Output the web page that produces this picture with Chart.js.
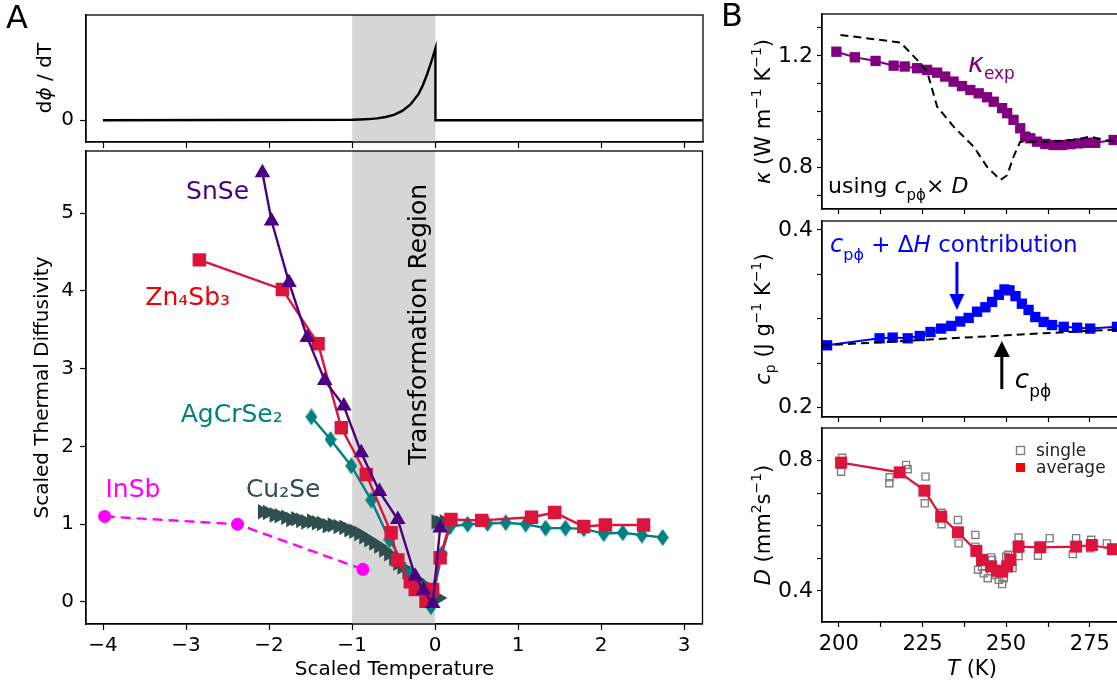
<!DOCTYPE html>
<html>
<head>
<meta charset="utf-8">
<script src="https://cdn.jsdelivr.net/npm/chart.js@4.4.0/dist/chart.umd.min.js"></script>
<style>
html, body { margin: 0; padding: 0; background: #fff; overflow: hidden; width: 1117px; height: 688px; }
canvas { position: absolute; }
</style>
</head>
<body>
<canvas id="phiChart" style="left:0;top:-10px" width="712" height="180"></canvas>
<canvas id="diffChart" style="left:0;top:130px" width="712" height="558"></canvas>
<canvas id="kappaChart" style="left:712px;top:-10px" width="420" height="244"></canvas>
<canvas id="cpChart" style="left:712px;top:190px" width="420" height="252"></canvas>
<canvas id="dChart" style="left:712px;top:400px" width="420" height="288"></canvas>
<script>
// ---- Panel A: dphi/dT ----
const phiT    = [-4.0, -1.0, -0.9, -0.8, -0.7, -0.6, -0.5, -0.4, -0.3, -0.2, -0.15, -0.1, -0.05, 0.0, 0.0, 3.22];
const phiRate = [0, 0.006, 0.01, 0.016, 0.026, 0.045, 0.075, 0.13, 0.22, 0.37, 0.49, 0.64, 0.81, 1.0, 0, 0];

// ---- Panel A: scaled diffusivity ----
const snseT = [-2.08, -1.97, -1.76, -1.54, -1.33, -1.10, -0.89, -0.67, -0.45, -0.24, -0.14, -0.03, 0.06];
const snseD = [5.52, 4.90, 4.11, 3.40, 2.85, 2.52, 1.92, 1.42, 1.06, 0.33, 0.15, -0.02, 0.95];

const znsbT = [-2.84, -1.84, -1.41, -1.13, -0.83, -0.53, -0.45, -0.30, -0.24, -0.11, -0.03, 0.06, 0.19, 0.56, 1.16, 1.44, 1.79, 2.05, 2.51];
const znsbD = [4.40, 4.02, 3.32, 2.24, 1.64, 0.89, 0.54, 0.26, 0.16, 0.01, 0.16, 0.57, 1.06, 1.05, 1.09, 1.15, 0.97, 0.99, 0.99];

const agcrT = [-1.49, -1.26, -1.01, -0.77, -0.55, -0.30, -0.05, 0.08, 0.18, 0.39, 0.63, 0.85, 1.09, 1.33, 1.57, 1.79, 2.03, 2.26, 2.49, 2.74];
const agcrD = [2.38, 2.09, 1.75, 1.31, 0.80, 0.35, -0.06, 0.62, 0.97, 1.00, 1.01, 1.02, 1.00, 0.95, 0.95, 0.94, 0.88, 0.89, 0.86, 0.83];

const cuseT = [-2.08, -2.02, -1.94, -1.88, -1.80, -1.74, -1.68, -1.62, -1.56, -1.49, -1.43, -1.37, -1.30, -1.24, -1.17, -1.10, -1.04, -0.98,
               -0.92, -0.86, -0.80, -0.74, -0.68, -0.62, -0.56, -0.50, -0.45, -0.40, -0.34, -0.29, -0.23, -0.17, -0.12, -0.06, -0.01, 0.04,
               0.01, 0.06, 0.11];
const cuseD = [1.16, 1.15, 1.12, 1.11, 1.09, 1.06, 1.07, 1.05, 1.03, 1.04, 1.02, 1.01, 0.98, 0.99, 0.97, 0.96, 0.93, 0.91,
               0.88, 0.84, 0.80, 0.76, 0.72, 0.67, 0.62, 0.56, 0.50, 0.45, 0.39, 0.35, 0.29, 0.24, 0.18, 0.11, 0.07, 0.05,
               1.03, 1.02, 1.03];

const insbT = [-3.98, -2.38, -0.87];
const insbD = [1.10, 1.00, 0.42];

// ---- Panel B: kappa ----
const kappaT   = [199.3, 204.8, 211.0, 216.4, 219.7, 223.4, 226.4, 229.4, 231.8, 234.3, 236.8, 239.3, 241.8, 244.3, 246.3,
                  248.8, 250.3, 252.2, 254.2, 255.7, 257.2, 259.2, 261.7, 264.2, 266.7, 269.2, 271.6, 274.1, 276.6, 282.1];
const kappaExp = [1.215, 1.195, 1.182, 1.165, 1.162, 1.156, 1.150, 1.140, 1.126, 1.108, 1.092, 1.078, 1.066, 1.052, 1.036,
                  1.013, 0.995, 0.971, 0.941, 0.911, 0.905, 0.893, 0.885, 0.881, 0.881, 0.884, 0.887, 0.889, 0.889, 0.899];
const kappaCalcT = [200.5, 218.4, 223.4, 226.4, 229.4, 234.3, 240.3, 244.3, 248.3, 250.3, 252.2, 254.2, 264.2, 270.1, 275.1, 279.1, 283.1];
const kappaCalc  = [1.275, 1.248, 1.186, 1.144, 1.018, 0.947, 0.875, 0.803, 0.756, 0.773, 0.839, 0.893, 0.893, 0.899, 0.911, 0.899, 0.893];

// ---- Panel B: heat capacity ----
const cpT     = [196.5, 212.2, 216.1, 220.6, 224.2, 227.4, 230.6, 233.6, 236.3, 238.8, 241.3, 243.8, 245.8, 247.8, 249.5,
                 251.0, 252.8, 254.7, 256.7, 258.7, 261.2, 263.7, 267.2, 271.2, 275.1, 283.1];
const cpTotal = [0.2702, 0.2781, 0.2789, 0.2781, 0.2807, 0.2852, 0.289, 0.292, 0.297, 0.301, 0.308, 0.313, 0.319, 0.327, 0.333,
                 0.332, 0.3255, 0.317, 0.310, 0.302, 0.2965, 0.293, 0.291, 0.290, 0.289, 0.291];
const cpPhiT = [195, 250, 290];
const cpPhi  = [0.270, 0.2815, 0.2895];

// ---- Panel B: diffusivity ----
const dAvgT = [200.7, 218.2, 225.6, 230.6, 235.6, 241.1, 242.8, 245.5, 247.3, 248.8, 250.3, 251.3, 253.7, 260.2, 270.9, 275.6, 281.9];
const dAvg  = [0.794, 0.764, 0.708, 0.628, 0.580, 0.523, 0.495, 0.475, 0.462, 0.459, 0.475, 0.495, 0.536, 0.534, 0.536, 0.541, 0.528];
const dSingleT = [201.0, 200.7, 215.2, 215.1, 220.1, 220.6, 225.9, 225.7, 230.7, 230.7, 235.6, 235.8, 240.8, 240.8, 241.6, 242.8, 243.3,
                  244.5, 245.5, 245.8, 246.8, 247.8, 248.8, 249.3, 250.0, 250.6, 251.9, 253.7, 253.7, 259.5, 259.7, 263.0, 269.9,
                  270.9, 275.1, 275.4, 280.1];
const dSingle  = [0.809, 0.766, 0.749, 0.731, 0.787, 0.774, 0.751, 0.669, 0.640, 0.605, 0.618, 0.546, 0.572, 0.536, 0.465, 0.475, 0.454,
                  0.439, 0.503, 0.495, 0.449, 0.434, 0.421, 0.439, 0.505, 0.511, 0.470, 0.564, 0.507, 0.508, 0.536, 0.562, 0.513,
                  0.562, 0.531, 0.557, 0.546];

// ---- ticks ----
const aTicksX = [-4, -3, -2, -1, 0, 1, 2, 3];
const aTicksY = [0, 1, 2, 3, 4, 5];
const bTicksT = [200, 212.5, 225, 237.5, 250, 262.5, 275];
const bLabelsT = [200, 225, 250, 275];
const kappaTicks = [0.7, 0.8, 0.9, 1.0, 1.1, 1.2, 1.3];
const kappaLabels = [0.8, 1.2];
const cpTicks = [0.2, 0.25, 0.3, 0.35, 0.4];
const cpLabels = [0.2, 0.4];
const dTicks = [0.4, 0.5, 0.6, 0.7, 0.8];
const dLabels = [0.4, 0.8];

const FONT = 'DejaVu Sans';
const INDIGO = '#4b0082', CRIMSON = '#dc143c', TEAL = '#008080', SLATE = '#2f4f4f', MAGENTA = '#ff00ff';

function font(size, italic) {
	return (italic ? 'italic ' : '') + size + 'px "' + FONT + '"';
}

function xy(xs, ys) {
	return xs.map((x, i) => ({ x: x, y: ys[i] }));
}

function minus(v) {
	return (v < 0 ? '\u2212' : '') + Math.abs(v);
}

// draw pieces of text one after another: [text, size, italic, dy]
function drawRuns(ctx, x, y, runs, color, align, angle) {
	ctx.save();
	ctx.translate(x, y);
	if (angle) ctx.rotate(angle);
	ctx.fillStyle = color;
	ctx.textBaseline = 'alphabetic';
	ctx.textAlign = 'left';
	let total = 0;
	runs.forEach(r => { ctx.font = font(r[1], r[2]); total += ctx.measureText(r[0]).width; });
	let cx = align === 'center' ? -total / 2 : 0;
	runs.forEach(r => {
		ctx.font = font(r[1], r[2]);
		ctx.fillText(r[0], cx, r[3] || 0);
		cx += ctx.measureText(r[0]).width;
	});
	ctx.restore();
}

// thin diamond marker like matplotlib 'd'
function thinDiamond(color, w, h) {
	let c = document.createElement('canvas');
	c.width = w; c.height = h;
	let g = c.getContext('2d');
	g.fillStyle = color;
	g.beginPath();
	g.moveTo(w / 2, 0); g.lineTo(w, h / 2); g.lineTo(w / 2, h); g.lineTo(0, h / 2);
	g.closePath(); g.fill();
	return c;
}

function axis(o) {
	return {
		type: 'linear', position: o.pos, min: o.min, max: o.max, bounds: 'data',
		afterFit: s => { if (o.pos === 'bottom') s.height = o.size; else s.width = o.size; },
		afterBuildTicks: s => { s.ticks = o.ticks.map(v => ({ value: v })); },
		ticks: {
			autoSkip: false, maxRotation: 0, minRotation: 0, color: '#000', padding: o.pad,
			font: { family: FONT, size: o.font || 20 },
			callback: v => o.labels.some(l => Math.abs(l - v) < 1e-9) ? o.fmt(v) : ''
		},
		grid: { drawOnChartArea: false, drawTicks: true, tickLength: o.tick || 6, tickColor: '#000', tickWidth: 1.2 },
		border: { display: true, color: '#000', width: 1.3 }
	};
}

function baseOptions(pad, scales) {
	return {
		responsive: false, animation: false, events: [],
		layout: { padding: pad },
		plugins: { legend: { display: false }, tooltip: { enabled: false } },
		scales: scales
	};
}

// box around the plot area
const framePlugin = {
	id: 'frame',
	afterDatasetsDraw(chart) {
		const { ctx, chartArea: a } = chart;
		ctx.save();
		ctx.strokeStyle = '#000';
		ctx.lineWidth = 1.3;
		ctx.strokeRect(a.left, a.top, a.right - a.left, a.bottom - a.top);
		ctx.restore();
	}
};

// grey transformation band between scaled T = -1 and 0
const bandPlugin = {
	id: 'band',
	beforeDatasetsDraw(chart) {
		const { ctx, chartArea: a, scales } = chart;
		let x0 = scales.x.getPixelForValue(-1), x1 = scales.x.getPixelForValue(0);
		ctx.save();
		ctx.fillStyle = '#d6d6d6';
		ctx.fillRect(x0, a.top, x1 - x0, a.bottom - a.top);
		ctx.restore();
	}
};

// draw in page coordinates
function onPage(chart, fn) {
	const ctx = chart.ctx;
	ctx.save();
	ctx.translate(-chart.canvas.offsetLeft, -chart.canvas.offsetTop);
	fn(ctx);
	ctx.restore();
}

function arrow(ctx, x, yTail, yTip, color, headW, headL) {
	let dir = yTip > yTail ? 1 : -1;
	ctx.save();
	ctx.strokeStyle = color; ctx.fillStyle = color; ctx.lineWidth = 3;
	ctx.beginPath(); ctx.moveTo(x, yTail); ctx.lineTo(x, yTip - dir * headL); ctx.stroke();
	ctx.beginPath();
	ctx.moveTo(x, yTip);
	ctx.lineTo(x - headW / 2, yTip - dir * headL);
	ctx.lineTo(x + headW / 2, yTip - dir * headL);
	ctx.closePath(); ctx.fill();
	ctx.restore();
}

const aX = { pos: 'bottom', min: -4.205, max: 3.22, ticks: aTicksX, fmt: minus };
const bX = { pos: 'bottom', min: 195, max: 284.6, ticks: bTicksT, fmt: v => String(v), tick: 5, font: 21 };
const bYLab = 21;

// ---------- Panel A top ----------
new Chart(document.getElementById('phiChart'), {
	type: 'scatter',
	data: { datasets: [{
		data: xy(phiT, phiRate), showLine: true, borderColor: '#000', borderWidth: 2.4, pointRadius: 0, tension: 0
	}] },
	options: baseOptions({ top: 25, right: 9, left: 0, bottom: 0 }, {
		x: axis(Object.assign({}, aX, { size: 28, labels: [], pad: 4 })),
		y: axis({ pos: 'left', min: -0.303, max: 1.464, ticks: [0], labels: [0], fmt: String, size: 86, pad: 6 })
	}),
	plugins: [bandPlugin, framePlugin, {
		id: 'notesTop',
		afterDraw(chart) {
			onPage(chart, ctx => {
				drawRuns(ctx, 6, 28, [['A', 32]], '#000');
				drawRuns(ctx, 51, 78, [['d', 20], ['\u03d5', 20, true], [' / dT', 20]], '#000', 'center', -Math.PI / 2);
			});
		}
	}]
});

// ---------- Panel A main ----------
new Chart(document.getElementById('diffChart'), {
	type: 'scatter',
	data: { datasets: [
		{ label: 'SnSe', data: xy(snseT, snseD), showLine: true, borderColor: INDIGO, backgroundColor: INDIGO,
		  borderWidth: 2.4, pointStyle: 'triangle', pointRadius: 9, pointBorderWidth: 0 },
		{ label: 'Zn4Sb3', data: xy(znsbT, znsbD), showLine: true, borderColor: CRIMSON, backgroundColor: CRIMSON,
		  borderWidth: 2.4, pointStyle: 'rect', pointRadius: 9.5, pointBorderWidth: 0 },
		{ label: 'AgCrSe2', data: xy(agcrT, agcrD), showLine: true, borderColor: TEAL, backgroundColor: TEAL,
		  borderWidth: 2.4, pointStyle: thinDiamond(TEAL, 12, 17), pointRadius: 7 },
		{ label: 'Cu2Se', data: xy(cuseT, cuseD), showLine: false, borderColor: SLATE, backgroundColor: SLATE,
		  pointStyle: 'triangle', pointRotation: 90, pointRadius: 9, pointBorderWidth: 0 },
		{ label: 'InSb', data: xy(insbT, insbD), showLine: true, borderColor: MAGENTA, backgroundColor: MAGENTA,
		  borderWidth: 2.4, borderDash: [10, 6], pointStyle: 'circle', pointRadius: 6.5, pointBorderWidth: 0 }
	] },
	options: baseOptions({ top: 21, right: 9, left: 0, bottom: 0 }, {
		x: axis(Object.assign({}, aX, { size: 64, labels: aTicksX, pad: 4 })),
		y: axis({ pos: 'left', min: -0.283, max: 5.8, ticks: aTicksY, labels: aTicksY, fmt: String, size: 86, pad: 6 })
	}),
	plugins: [bandPlugin, framePlugin, {
		id: 'notesMain',
		beforeDatasetsDraw(chart) {
			const { ctx, scales: { x, y } } = chart;
			drawRuns(ctx, x.getPixelForValue(-0.11), y.getPixelForValue(3.57),
				[['Transformation Region', 25]], '#000', 'center', -Math.PI / 2);
		},
		afterDraw(chart) {
			const { ctx, scales: { x, y } } = chart;
			const tags = [
				['SnSe', -2.62, 5.30, INDIGO],
				['Zn\u2084Sb\u2083', -2.98, 3.93, '#f00000'],
				['AgCrSe\u2082', -2.45, 2.43, TEAL],
				['InSb', -3.64, 1.46, MAGENTA],
				['Cu\u2082Se', -1.83, 1.46, SLATE]
			];
			tags.forEach(t => drawRuns(ctx, x.getPixelForValue(t[1]), y.getPixelForValue(t[2]) + 9, [[t[0], 25]], t[3], 'center'));
			onPage(chart, c => {
				drawRuns(c, 394.5, 675, [['Scaled Temperature', 20]], '#000', 'center');
				drawRuns(c, 48, 387.5, [['Scaled Thermal Diffusivity', 20]], '#000', 'center', -Math.PI / 2);
			});
		}
	}]
});

// ---------- Panel B: kappa ----------
new Chart(document.getElementById('kappaChart'), {
	type: 'scatter',
	data: { datasets: [
		{ data: xy(kappaCalcT, kappaCalc), showLine: true, borderColor: '#000', borderWidth: 2, borderDash: [8, 5], pointRadius: 0 },
		{ data: xy(kappaT, kappaExp), showLine: true, borderColor: '#800080', backgroundColor: '#800080', borderWidth: 2,
		  pointStyle: 'rect', pointRadius: 7.3, pointBorderWidth: 0 }
	] },
	options: baseOptions({ top: 24, right: 10, left: 0, bottom: 0 }, {
		x: axis(Object.assign({}, bX, { size: 25, labels: [], pad: 4 })),
		y: axis({ pos: 'left', min: 0.652, max: 1.35, ticks: kappaTicks, labels: kappaLabels, fmt: v => v.toFixed(1), size: 110, pad: 4, tick: 5, font: 22 })
	}),
	plugins: [framePlugin, {
		id: 'notesKappa',
		afterDraw(chart) {
			const { ctx, scales: { x, y } } = chart;
			drawRuns(ctx, x.getPixelForValue(238.6), y.getPixelForValue(1.143),
				[['\u03ba', 27, true], ['exp', 17, false, 7]], '#800080');
			drawRuns(ctx, x.getPixelForValue(196.8), y.getPixelForValue(0.709),
				[['using ', 22], ['c', 22, true], ['p\u03d5', 15, false, 7], ['\u00d7 ', 22], ['D', 22, true]], '#000');
			onPage(chart, c => {
				drawRuns(c, 721, 26, [['B', 32]], '#000');
				drawRuns(c, 770, 111.5, [['\u03ba', bYLab, true], [' (W m', bYLab], ['\u22121', 14, false, -9], [' K', bYLab], ['\u22121', 14, false, -9], [')', bYLab]],
					'#000', 'center', -Math.PI / 2);
			});
		}
	}]
});

// ---------- Panel B: heat capacity ----------
new Chart(document.getElementById('cpChart'), {
	type: 'scatter',
	data: { datasets: [
		{ data: xy(cpPhiT, cpPhi), showLine: true, borderColor: '#000', borderWidth: 2, borderDash: [8, 5], pointRadius: 0 },
		{ data: xy(cpT, cpTotal), showLine: true, borderColor: '#0000ff', backgroundColor: '#0000ff', borderWidth: 2,
		  pointStyle: 'rect', pointRadius: 7.3, pointBorderWidth: 0 }
	] },
	options: baseOptions({ top: 31, right: 10, left: 0, bottom: 0 }, {
		x: axis(Object.assign({}, bX, { size: 25, labels: [], pad: 4 })),
		y: axis({ pos: 'left', min: 0.1896, max: 0.41, ticks: cpTicks, labels: cpLabels, fmt: v => v.toFixed(1), size: 110, pad: 4, tick: 5, font: 22 })
	}),
	plugins: [framePlugin, {
		id: 'notesCp',
		afterDraw(chart) {
			const { ctx, scales: { x, y } } = chart;
			drawRuns(ctx, x.getPixelForValue(197.4), y.getPixelForValue(0.375),
				[['c', 24, true], ['p\u03d5', 16, false, 8], [' + ', 23], ['\u0394', 23], ['H', 23, true], [' contribution', 23]], '#0000ff');
			drawRuns(ctx, x.getPixelForValue(252.6), y.getPixelForValue(0.222),
				[['c', 26, true], ['p\u03d5', 17, false, 9]], '#000');
			arrow(ctx, x.getPixelForValue(235.3), y.getPixelForValue(0.364), y.getPixelForValue(0.310), '#0000ff', 15, 16);
			arrow(ctx, x.getPixelForValue(248.7), y.getPixelForValue(0.221), y.getPixelForValue(0.275), '#000', 16, 16);
			onPage(chart, c => {
				drawRuns(c, 770, 319, [['c', bYLab, true], ['p', 14, false, 5], [' (J g', bYLab], ['\u22121', 14, false, -9], [' K', bYLab], ['\u22121', 14, false, -9], [')', bYLab]],
					'#000', 'center', -Math.PI / 2);
			});
		}
	}]
});

// ---------- Panel B: diffusivity ----------
new Chart(document.getElementById('dChart'), {
	type: 'scatter',
	data: { datasets: [
		{ data: xy(dAvgT, dAvg), showLine: true, borderColor: CRIMSON, backgroundColor: CRIMSON, borderWidth: 2.2,
		  pointStyle: 'rect', pointRadius: 8.5, pointBorderWidth: 0 },
		{ data: xy(dSingleT, dSingle), showLine: false, borderColor: '#808080', backgroundColor: 'rgba(0,0,0,0)',
		  pointStyle: 'rect', pointRadius: 5, pointBorderWidth: 1.4 }
	] },
	options: baseOptions({ top: 28, right: 10, left: 0, bottom: 0 }, {
		x: axis(Object.assign({}, bX, { size: 66, labels: bLabelsT, pad: 5 })),
		y: axis({ pos: 'left', min: 0.3045, max: 0.9004, ticks: dTicks, labels: dLabels, fmt: v => v.toFixed(1), size: 110, pad: 4, tick: 5, font: 22 })
	}),
	plugins: [framePlugin, {
		id: 'notesD',
		afterDraw(chart) {
			onPage(chart, c => {
				// legend
				c.save();
				c.strokeStyle = '#808080'; c.lineWidth = 1.4;
				c.strokeRect(1016.5, 446.5, 8, 8);
				c.fillStyle = '#ff0000';
				c.fillRect(1016, 463, 9, 9);
				c.restore();
				drawRuns(c, 1036, 456, [['single', 17]], '#222');
				drawRuns(c, 1036, 473, [['average', 17]], '#222');
				drawRuns(c, 972, 675, [['T', 21, true], [' (K)', 21]], '#000', 'center');
				drawRuns(c, 770, 525, [['D', bYLab, true], [' (mm', bYLab], ['2', 14, false, -9], ['s', bYLab], ['\u22121', 14, false, -9], [')', bYLab]],
					'#000', 'center', -Math.PI / 2);
			});
		}
	}]
});
</script>
</body>
</html>
